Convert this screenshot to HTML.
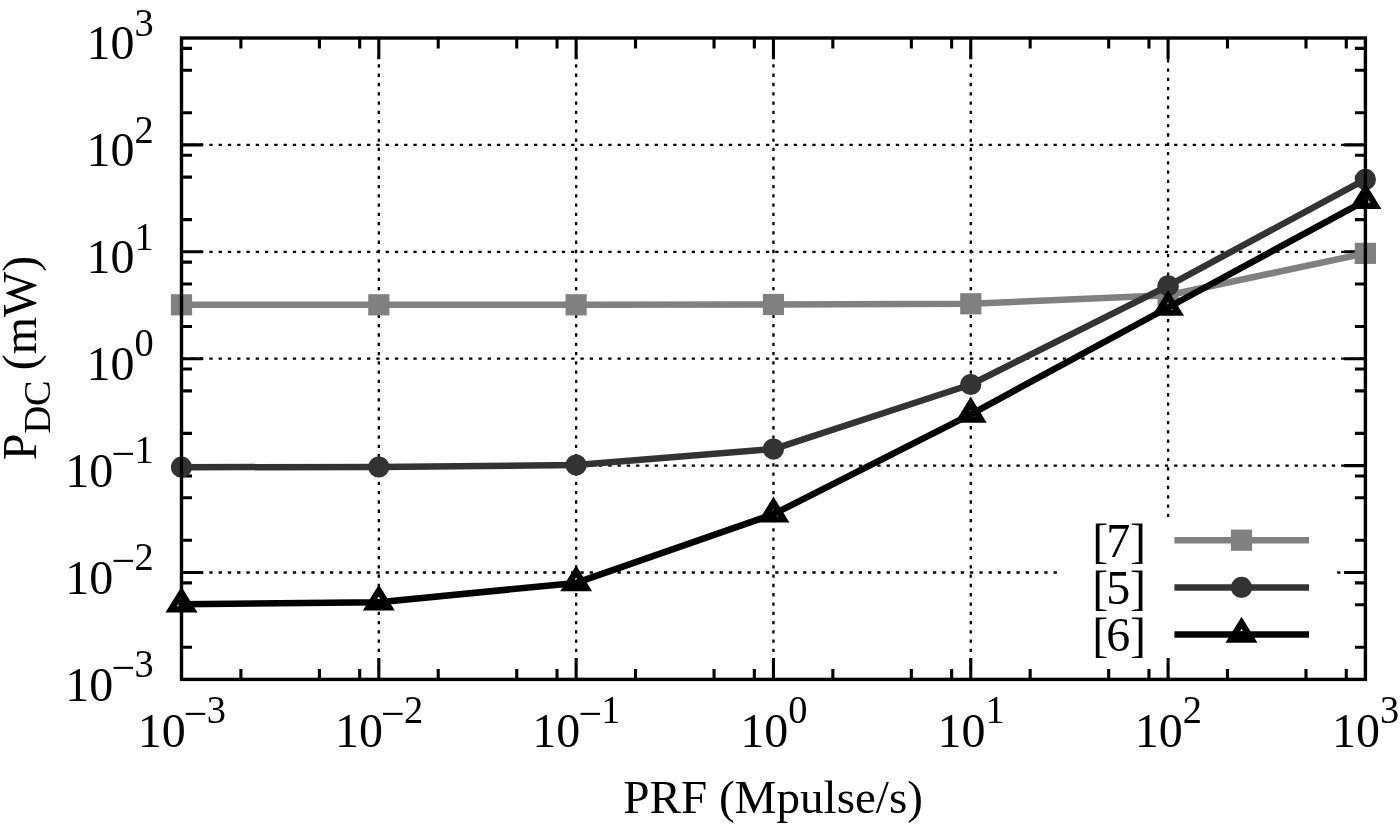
<!DOCTYPE html>
<html lang="en"><head><meta charset="utf-8"><title>P_DC vs PRF</title>
<style>html,body{margin:0;padding:0;background:#fff;}body{width:1400px;height:827px;overflow:hidden;}svg{display:block;}text{font-family:"Liberation Serif", "Times New Roman", Times, serif;fill:#000;}</style></head><body>
<svg width="1400" height="827" viewBox="0 0 1400 827">
<rect x="0" y="0" width="1400" height="827" fill="#fff"/>
<g stroke="#000" stroke-width="2.3" stroke-dasharray="3.3 5.977" fill="none">
<line x1="378.82" y1="679.40" x2="378.82" y2="38.00" stroke-dashoffset="0.5"/>
<line x1="576.13" y1="679.40" x2="576.13" y2="38.00" stroke-dashoffset="0.5"/>
<line x1="773.45" y1="679.40" x2="773.45" y2="38.00" stroke-dashoffset="0.5"/>
<line x1="970.77" y1="679.40" x2="970.77" y2="38.00" stroke-dashoffset="0.5"/>
<line x1="1168.08" y1="679.40" x2="1168.08" y2="658.00"/>
<line x1="1168.08" y1="517.00" x2="1168.08" y2="38.00"/>
<line x1="181.50" y1="144.90" x2="1365.40" y2="144.90"/>
<line x1="181.50" y1="251.80" x2="1365.40" y2="251.80"/>
<line x1="181.50" y1="358.70" x2="1365.40" y2="358.70"/>
<line x1="181.50" y1="465.60" x2="1365.40" y2="465.60"/>
<line x1="181.50" y1="572.50" x2="1059.00" y2="572.50"/>
<line x1="1337.10" y1="572.50" x2="1365.40" y2="572.50"/>
</g>
<g stroke="#000" stroke-width="3.1" fill="none">
<path d="M240.90 679.40v-10.50M240.90 38.00v10.50"/>
<path d="M319.42 679.40v-10.50M319.42 38.00v10.50"/>
<path d="M359.69 679.40v-10.50M359.69 38.00v10.50"/>
<path d="M378.82 679.40v-21.30M378.82 38.00v21.30"/>
<path d="M438.21 679.40v-10.50M438.21 38.00v10.50"/>
<path d="M516.74 679.40v-10.50M516.74 38.00v10.50"/>
<path d="M557.01 679.40v-10.50M557.01 38.00v10.50"/>
<path d="M576.13 679.40v-21.30M576.13 38.00v21.30"/>
<path d="M635.53 679.40v-10.50M635.53 38.00v10.50"/>
<path d="M714.05 679.40v-10.50M714.05 38.00v10.50"/>
<path d="M754.33 679.40v-10.50M754.33 38.00v10.50"/>
<path d="M773.45 679.40v-21.30M773.45 38.00v21.30"/>
<path d="M832.85 679.40v-10.50M832.85 38.00v10.50"/>
<path d="M911.37 679.40v-10.50M911.37 38.00v10.50"/>
<path d="M951.64 679.40v-10.50M951.64 38.00v10.50"/>
<path d="M970.77 679.40v-21.30M970.77 38.00v21.30"/>
<path d="M1030.16 679.40v-10.50M1030.16 38.00v10.50"/>
<path d="M1108.69 679.40v-10.50M1108.69 38.00v10.50"/>
<path d="M1148.96 679.40v-10.50M1148.96 38.00v10.50"/>
<path d="M1168.08 679.40v-21.30M1168.08 38.00v21.30"/>
<path d="M1227.48 679.40v-10.50M1227.48 38.00v10.50"/>
<path d="M1306.00 679.40v-10.50M1306.00 38.00v10.50"/>
<path d="M1346.28 679.40v-10.50M1346.28 38.00v10.50"/>
<path d="M181.50 647.22h10.50M1365.40 647.22h-10.50"/>
<path d="M181.50 604.68h10.50M1365.40 604.68h-10.50"/>
<path d="M181.50 582.86h10.50M1365.40 582.86h-10.50"/>
<path d="M181.50 572.50h21.30M1365.40 572.50h-21.30"/>
<path d="M181.50 540.32h10.50M1365.40 540.32h-10.50"/>
<path d="M181.50 497.78h10.50M1365.40 497.78h-10.50"/>
<path d="M181.50 475.96h10.50M1365.40 475.96h-10.50"/>
<path d="M181.50 465.60h21.30M1365.40 465.60h-21.30"/>
<path d="M181.50 433.42h10.50M1365.40 433.42h-10.50"/>
<path d="M181.50 390.88h10.50M1365.40 390.88h-10.50"/>
<path d="M181.50 369.06h10.50M1365.40 369.06h-10.50"/>
<path d="M181.50 358.70h21.30M1365.40 358.70h-21.30"/>
<path d="M181.50 326.52h10.50M1365.40 326.52h-10.50"/>
<path d="M181.50 283.98h10.50M1365.40 283.98h-10.50"/>
<path d="M181.50 262.16h10.50M1365.40 262.16h-10.50"/>
<path d="M181.50 251.80h21.30M1365.40 251.80h-21.30"/>
<path d="M181.50 219.62h10.50M1365.40 219.62h-10.50"/>
<path d="M181.50 177.08h10.50M1365.40 177.08h-10.50"/>
<path d="M181.50 155.26h10.50M1365.40 155.26h-10.50"/>
<path d="M181.50 144.90h21.30M1365.40 144.90h-21.30"/>
<path d="M181.50 112.72h10.50M1365.40 112.72h-10.50"/>
<path d="M181.50 70.18h10.50M1365.40 70.18h-10.50"/>
<path d="M181.50 48.36h10.50M1365.40 48.36h-10.50"/>
</g>
<g>
<polyline points="181.50,304.80 378.82,304.80 576.13,304.80 773.45,304.50 970.77,303.80 1168.08,295.20 1365.40,253.35" fill="none" stroke="#808080" stroke-width="6.5" stroke-linejoin="round"/>
<rect x="170.90" y="294.20" width="21.20" height="21.20" fill="#808080"/>
<rect x="368.22" y="294.20" width="21.20" height="21.20" fill="#808080"/>
<rect x="565.53" y="294.20" width="21.20" height="21.20" fill="#808080"/>
<rect x="762.85" y="293.90" width="21.20" height="21.20" fill="#808080"/>
<rect x="960.17" y="293.20" width="21.20" height="21.20" fill="#808080"/>
<rect x="1157.48" y="284.60" width="21.20" height="21.20" fill="#808080"/>
<rect x="1354.80" y="242.75" width="21.20" height="21.20" fill="#808080"/>
<line x1="1174.4" y1="540.2" x2="1309.0" y2="540.2" stroke="#808080" stroke-width="6.5"/>
<rect x="1230.90" y="529.60" width="21.20" height="21.20" fill="#808080"/>
</g>
<g>
<polyline points="181.50,467.20 378.82,467.00 576.13,465.00 773.45,449.10 970.77,384.50 1168.08,285.80 1365.40,179.40" fill="none" stroke="#333333" stroke-width="6.5" stroke-linejoin="round"/>
<circle cx="181.50" cy="467.20" r="10.60" fill="#333333"/>
<circle cx="378.82" cy="467.00" r="10.60" fill="#333333"/>
<circle cx="576.13" cy="465.00" r="10.60" fill="#333333"/>
<circle cx="773.45" cy="449.10" r="10.60" fill="#333333"/>
<circle cx="970.77" cy="384.50" r="10.60" fill="#333333"/>
<circle cx="1168.08" cy="285.80" r="10.60" fill="#333333"/>
<circle cx="1365.40" cy="179.40" r="10.60" fill="#333333"/>
<line x1="1174.4" y1="587.4" x2="1309.0" y2="587.4" stroke="#333333" stroke-width="6.5"/>
<circle cx="1241.50" cy="587.40" r="10.60" fill="#333333"/>
</g>
<g>
<polyline points="181.50,604.30 378.82,602.20 576.13,582.90 773.45,514.20 970.77,414.30 1168.08,307.50 1365.40,200.65" fill="none" stroke="#000000" stroke-width="6.5" stroke-linejoin="round"/>
<path d="M181.50 592.71L171.15 609.47L191.85 609.47Z" fill="none" stroke="#000000" stroke-width="6.3" stroke-linejoin="miter" stroke-miterlimit="10"/><circle cx="181.50" cy="604.30" r="3.15" fill="#000000"/>
<path d="M378.82 590.61L368.47 607.38L389.17 607.38Z" fill="none" stroke="#000000" stroke-width="6.3" stroke-linejoin="miter" stroke-miterlimit="10"/><circle cx="378.82" cy="602.20" r="3.15" fill="#000000"/>
<path d="M576.13 571.31L565.78 588.07L586.48 588.07Z" fill="none" stroke="#000000" stroke-width="6.3" stroke-linejoin="miter" stroke-miterlimit="10"/><circle cx="576.13" cy="582.90" r="3.15" fill="#000000"/>
<path d="M773.45 502.61L763.10 519.38L783.80 519.38Z" fill="none" stroke="#000000" stroke-width="6.3" stroke-linejoin="miter" stroke-miterlimit="10"/><circle cx="773.45" cy="514.20" r="3.15" fill="#000000"/>
<path d="M970.77 402.71L960.42 419.48L981.12 419.48Z" fill="none" stroke="#000000" stroke-width="6.3" stroke-linejoin="miter" stroke-miterlimit="10"/><circle cx="970.77" cy="414.30" r="3.15" fill="#000000"/>
<path d="M1168.08 295.91L1157.73 312.68L1178.43 312.68Z" fill="none" stroke="#000000" stroke-width="6.3" stroke-linejoin="miter" stroke-miterlimit="10"/><circle cx="1168.08" cy="307.50" r="3.15" fill="#000000"/>
<path d="M1365.40 189.06L1355.05 205.83L1375.75 205.83Z" fill="none" stroke="#000000" stroke-width="6.3" stroke-linejoin="miter" stroke-miterlimit="10"/><circle cx="1365.40" cy="200.65" r="3.15" fill="#000000"/>
<line x1="1174.4" y1="634.4" x2="1309.0" y2="634.4" stroke="#000000" stroke-width="6.5"/>
<path d="M1241.50 622.81L1231.15 639.57L1251.85 639.57Z" fill="none" stroke="#000000" stroke-width="6.3" stroke-linejoin="miter" stroke-miterlimit="10"/><circle cx="1241.50" cy="634.40" r="3.15" fill="#000000"/>
</g>
<rect x="181.50" y="38.00" width="1183.90" height="641.40" fill="none" stroke="#000" stroke-width="3.4"/>
<text font-size="48.0" transform="matrix(1 0 0 1.025 0 -18.675)"><tspan x="137.66" y="747.00">10</tspan><tspan x="183.76" y="728.27" font-size="42">−</tspan><tspan x="206.74" y="723.98" font-size="38.4">3</tspan></text>
<text font-size="48.0" transform="matrix(1 0 0 1.025 0 -17.520)"><tspan x="65.32" y="700.80">10</tspan><tspan x="111.42" y="682.07" font-size="42">−</tspan><tspan x="134.40" y="677.78" font-size="38.4">3</tspan></text>
<text font-size="48.0" transform="matrix(1 0 0 1.025 0 -18.675)"><tspan x="334.98" y="747.00">10</tspan><tspan x="381.08" y="728.27" font-size="42">−</tspan><tspan x="404.06" y="723.98" font-size="38.4">2</tspan></text>
<text font-size="48.0" transform="matrix(1 0 0 1.025 0 -14.847)"><tspan x="65.32" y="593.90">10</tspan><tspan x="111.42" y="575.17" font-size="42">−</tspan><tspan x="134.40" y="570.88" font-size="38.4">2</tspan></text>
<text font-size="48.0" transform="matrix(1 0 0 1.025 0 -18.675)"><tspan x="532.29" y="747.00">10</tspan><tspan x="578.39" y="728.27" font-size="42">−</tspan><tspan x="601.37" y="723.98" font-size="38.4">1</tspan></text>
<text font-size="48.0" transform="matrix(1 0 0 1.025 0 -12.175)"><tspan x="65.32" y="487.00">10</tspan><tspan x="111.42" y="468.27" font-size="42">−</tspan><tspan x="134.40" y="463.98" font-size="38.4">1</tspan></text>
<text font-size="48.0" transform="matrix(1 0 0 1.025 0 -18.675)"><tspan x="740.15" y="747.00">10</tspan><tspan x="788.15" y="723.98" font-size="38.4">0</tspan></text>
<text font-size="48.0" transform="matrix(1 0 0 1.025 0 -9.502)"><tspan x="86.40" y="380.10">10</tspan><tspan x="134.40" y="357.08" font-size="38.4">0</tspan></text>
<text font-size="48.0" transform="matrix(1 0 0 1.025 0 -18.675)"><tspan x="937.47" y="747.00">10</tspan><tspan x="985.47" y="723.98" font-size="38.4">1</tspan></text>
<text font-size="48.0" transform="matrix(1 0 0 1.025 0 -6.830)"><tspan x="86.40" y="273.20">10</tspan><tspan x="134.40" y="250.18" font-size="38.4">1</tspan></text>
<text font-size="48.0" transform="matrix(1 0 0 1.025 0 -18.675)"><tspan x="1134.78" y="747.00">10</tspan><tspan x="1182.78" y="723.98" font-size="38.4">2</tspan></text>
<text font-size="48.0" transform="matrix(1 0 0 1.025 0 -4.157)"><tspan x="86.40" y="166.30">10</tspan><tspan x="134.40" y="143.28" font-size="38.4">2</tspan></text>
<text font-size="48.0" transform="matrix(1 0 0 1.025 0 -18.675)"><tspan x="1332.10" y="747.00">10</tspan><tspan x="1380.10" y="723.98" font-size="38.4">3</tspan></text>
<text font-size="48.0" transform="matrix(1 0 0 1.025 0 -1.485)"><tspan x="86.40" y="59.40">10</tspan><tspan x="134.40" y="36.38" font-size="38.4">3</tspan></text>
<text x="623.35" y="812.9" font-size="47.1">PRF (Mpulse/s)</text>
<text transform="translate(35.9 460.3) rotate(-90)" font-size="48.0" style="white-space:pre"><tspan x="0" y="0">P</tspan><tspan x="26.69" y="14.3" font-size="38.4">DC</tspan><tspan x="78.03" y="0"> (mW)</tspan></text>
<text x="1092.2 1106.3 1129.9" y="556.50" font-size="48.0">[7]</text>
<text x="1092.2 1106.3 1129.9" y="603.70" font-size="48.0">[5]</text>
<text x="1092.2 1106.3 1129.9" y="650.70" font-size="48.0">[6]</text>
</svg></body></html>
